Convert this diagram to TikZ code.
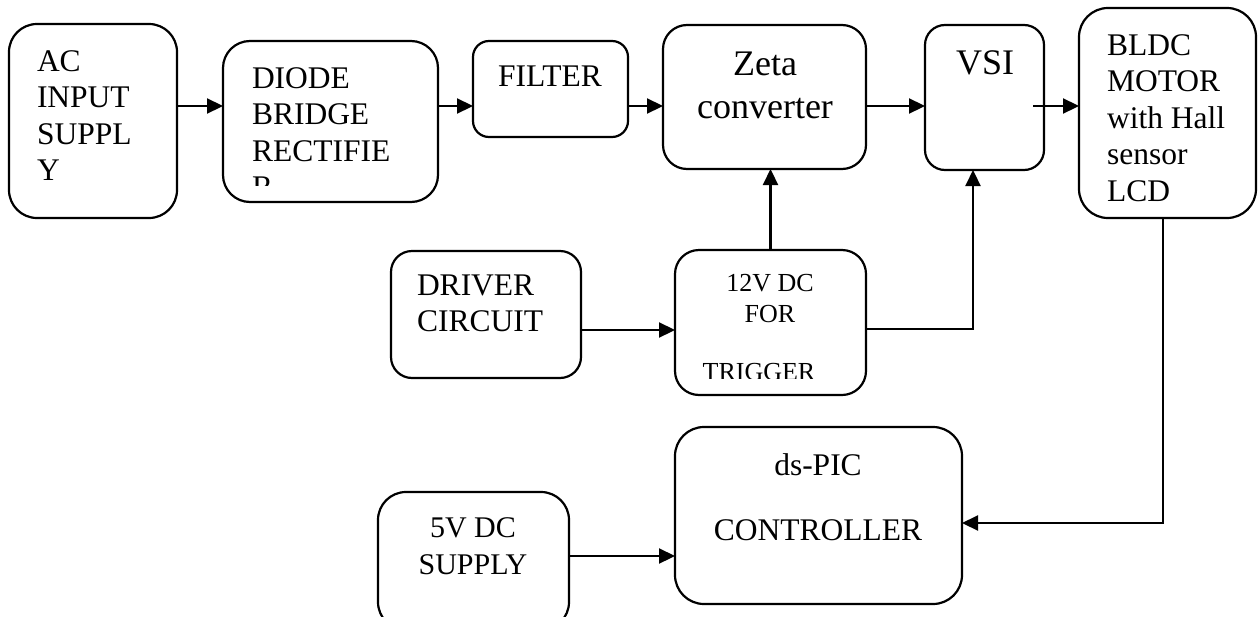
\documentclass[tikz,border=0pt]{standalone}
\usepackage{fontspec}
\setmainfont{Liberation Serif}
\usetikzlibrary{arrows.meta}
\newcommand{\fntMain}{\fontsize{31.5}{36.5}\selectfont}
\newcommand{\fntBig}{\fontsize{36}{43}\selectfont}
\newcommand{\fntSmall}{\fontsize{26}{31}\selectfont}
\newcommand{\fntFive}{\fontsize{30}{37}\selectfont}
\begin{document}
\begin{tikzpicture}[x=1pt,y=-1pt,
  box/.style={draw=black, line width=2.2pt, inner sep=0pt, outer sep=0pt, fill=none},
  lbl/.style={inner sep=0pt, outer sep=0pt, text=black},
  arr/.style={draw=black, line width=2.2pt, -{Triangle[length=16pt,width=15pt]}},
  wire/.style={draw=black, line width=2.2pt}]
\clip (0,0) rectangle (1258,616);
\fill[white] (0,0) rectangle (1258,616);

% boxes
\node[box, rounded corners=28pt, minimum width=168pt, minimum height=194pt] (ac) at (93,121) {};
\node[box, rounded corners=27pt, minimum width=215pt, minimum height=161pt] (diode) at (330.5,121.5) {};
\node[box, rounded corners=16pt, minimum width=155pt, minimum height=96pt] (filter) at (550.5,89) {};
\node[box, rounded corners=24pt, minimum width=203pt, minimum height=144pt] (zeta) at (764.5,97) {};
\node[box, rounded corners=20pt, minimum width=119pt, minimum height=145pt] (vsi) at (984.5,97.5) {};
\node[box, rounded corners=29pt, minimum width=177pt, minimum height=210pt] (bldc) at (1167.5,113) {};
\node[box, rounded corners=21pt, minimum width=190pt, minimum height=127pt] (driver) at (486,314.5) {};
\node[box, rounded corners=24pt, minimum width=191pt, minimum height=145pt] (trig) at (770.5,322.5) {};
\node[box, rounded corners=29pt, minimum width=287pt, minimum height=177pt] (pic) at (818.5,515.5) {};
\node[box, rounded corners=28pt, minimum width=191pt, minimum height=138pt] (five) at (473.5,561) {};

% texts
\node[lbl, anchor=base west, font=\fntMain] (tac) at (37,71)
  {\parbox[t]{130pt}{\raggedright AC\\INPUT\\SUPPL\\Y}};
\begin{scope}
  \clip (225,43) rectangle (436,185);
  \node[lbl, anchor=base west, font=\fntMain] (tdiode) at (252,88)
    {\parbox[t]{180pt}{\raggedright DIODE\\BRIDGE\\RECTIFIE\\R}};
\end{scope}
\node[lbl, anchor=base, font=\fntMain] (tfilter) at (550,86) {FILTER};
\node[lbl, anchor=base, font=\fntBig] (tzeta) at (765,75)
  {\parbox[t]{200pt}{\centering Zeta\\converter}};
\node[lbl, anchor=base, font=\fntBig] (tvsi) at (985,74) {VSI};
\node[lbl, anchor=base west, font=\fntMain] (tbldc) at (1107,55)
  {\parbox[t]{145pt}{\raggedright BLDC\\MOTOR\\with Hall\\sensor\\LCD}};
\node[lbl, anchor=base west, font=\fntMain] (tdriver) at (417,295)
  {\parbox[t]{160pt}{\raggedright DRIVER\\CIRCUIT}};
\node[lbl, anchor=base, font=\fntSmall] (ttrig) at (770,291)
  {\parbox[t]{180pt}{\centering 12V DC\\FOR}};
\begin{scope}
  \clip (677,252) rectangle (864,378);
  \node[lbl, anchor=base, font=\fntSmall] (ttrig2) at (759,380) {TRIGGER};
\end{scope}
\node[lbl, anchor=base, font=\fntMain] (tpic1) at (818,475) {ds-PIC};
\node[lbl, anchor=base, font=\fntMain] (tpic2) at (818,540) {CONTROLLER};
\node[lbl, anchor=base, font=\fntFive] (tfive) at (473,537)
  {\parbox[t]{180pt}{\centering 5V DC\\SUPPLY}};

% connectors
\coordinate (c1) at ([yshift=15pt]ac.east);
\draw[arr] (c1) -- (c1 -| diode.west);
\coordinate (c2) at ([yshift=15.5pt]diode.east);
\draw[arr] (c2) -- (c2 -| filter.west);
\coordinate (c3) at ([yshift=-17pt]filter.east);
\draw[arr] (c3) -- (c3 -| zeta.west);
\coordinate (c4) at ([yshift=-9pt]zeta.east);
\draw[arr] (c4) -- (c4 -| vsi.west);
\coordinate (c5) at ([xshift=-11pt,yshift=-8.5pt]vsi.east);
\draw[arr] (c5) -- (c5 -| bldc.west);
\coordinate (c6) at ([yshift=-15.5pt]driver.east);
\draw[arr] (c6) -- (c6 -| trig.west);
\draw[arr] (trig.north) -- (trig.north |- zeta.south);
\coordinate (c8) at ([yshift=-6.5pt]trig.east);
\coordinate (c8b) at ([xshift=-11.5pt]vsi.south);
\draw[arr] (c8) -| (c8b);
\coordinate (c9) at ([xshift=-4.5pt]bldc.south);
\coordinate (c9b) at ([yshift=-7.5pt]pic.east);
\draw[arr] (c9) |- (c9b);
\coordinate (c10) at ([yshift=5pt]five.east);
\draw[arr] (c10) -- (c10 -| pic.west);
\end{tikzpicture}
\end{document}
